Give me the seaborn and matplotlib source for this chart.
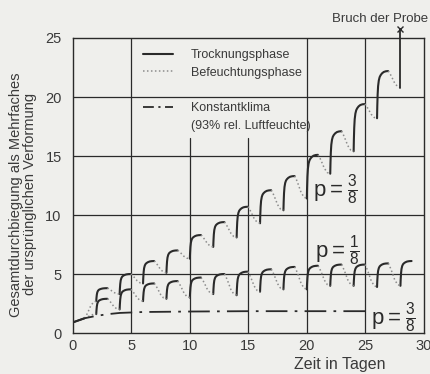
import numpy as np
import pandas as pd
import matplotlib
matplotlib.use("Agg")
import matplotlib.pyplot as plt
import seaborn as sns
from matplotlib.lines import Line2D

# --- values ---
# Konstantklima (93 % rel. Luftfeuchte)
const_days = [0, 1, 2, 3, 4, 6, 10, 15, 20, 25]
const_vals = [0.9, 1.25, 1.45, 1.6, 1.7, 1.78, 1.82, 1.85, 1.85, 1.85]

# start of the first drying phase (shared by both cyclic curves)
init_days = [0, 1]
init_vals = [0.9, 1.25]

# each drying phase starts on an even day
start_days = [2, 4, 6, 8, 10, 12, 14, 16, 18, 20, 22, 24, 26, 28]

# p = 3/8, cyclic climate (value at start of drying, value at end of drying)
upper_trough = [2.7, 3.3, 4.2, 5.1, 6.3, 7.3, 8.1, 9.3, 10.4, 11.4, 13.5, 15.4, 18.2]
upper_peak = [3.8, 5.0, 6.1, 7.0, 8.3, 9.4, 10.7, 12.1, 13.3, 15.1, 17.1, 19.4, 22.2]
upper_last = 20.8
fracture_top = 25.8

# p = 1/8, cyclic climate
lower_trough = [1.6, 2.0, 2.7, 2.9, 3.0, 3.3, 3.2, 3.5, 3.7, 3.7, 4.0, 4.0, 3.9, 4.0]
lower_peak = [2.9, 3.7, 4.2, 4.4, 4.7, 5.0, 5.2, 5.4, 5.6, 5.7, 5.8, 5.8, 5.9, 6.1]

# typical shape of one drying / wetting phase
rise_dt = [0, 0.02, 0.05, 0.09, 0.15, 0.22, 0.3, 0.42, 0.57, 0.75, 0.95]
rise_frac = [0, 0.25, 0.5, 0.68, 0.8, 0.87, 0.91, 0.95, 0.98, 0.995, 1.0]
fall_dt = [0, 0.1, 0.3, 0.55, 0.8, 1.05]
fall_frac = [0, 0.08, 0.35, 0.72, 0.94, 1.0]

DRY = "Trocknungsphase"
WET = "Befeuchtungsphase"

rows = []
seg_id = [0]


def add_segment(t0, dts, fracs, v0, v1, phase):
    for dt, f in zip(dts, fracs):
        rows.append((seg_id[0], phase, t0 + dt, v0 + (v1 - v0) * f))
    seg_id[0] += 1


# shared initial drying
for d, v in zip(init_days, init_vals):
    rows.append((seg_id[0], DRY, d, v))
seg_id[0] += 1

# initial wetting leading into the first cycle
init_dt = [t / fall_dt[-1] for t in fall_dt]
add_segment(init_days[-1], init_dt, fall_frac, init_vals[-1], upper_trough[0], WET)
add_segment(init_days[-1], init_dt, fall_frac, init_vals[-1], lower_trough[0], WET)

for i, d0 in enumerate(start_days[:len(upper_peak)]):
    add_segment(d0, rise_dt, rise_frac, upper_trough[i], upper_peak[i], DRY)
    nxt = upper_trough[i + 1] if i + 1 < len(upper_trough) else upper_last
    add_segment(d0 + rise_dt[-1], fall_dt, fall_frac, upper_peak[i], nxt, WET)

for i, d0 in enumerate(start_days):
    add_segment(d0, rise_dt, rise_frac, lower_trough[i], lower_peak[i], DRY)
    if i + 1 < len(lower_trough):
        add_segment(d0 + rise_dt[-1], fall_dt, fall_frac, lower_peak[i], lower_trough[i + 1], WET)

df = pd.DataFrame(rows, columns=["seg", "phase", "day", "value"])

# --- style ---
ink = "#2a2a2a"
txt = "#3a3a3a"
paper = "#efefec"
sns.set_style("white")
plt.rcParams["font.family"] = ["Liberation Sans", "DejaVu Sans"]
plt.rcParams["mathtext.fontset"] = "custom"
plt.rcParams["mathtext.rm"] = "Liberation Sans"

fig = plt.figure(figsize=(4.31, 3.74), dpi=100, facecolor=paper)
ax = fig.add_axes([0.169, 0.1096, 0.8144, 0.7888])
ax.set_facecolor(paper)

# grid drawn by hand because the legend interrupts two of the lines
for y in [5, 10, 15, 20]:
    ax.axhline(y, color=ink, lw=0.9, zorder=1)
for x in [5, 20, 25]:
    ax.axvline(x, color=ink, lw=0.9, zorder=1)
for x in [10, 15]:
    ax.axvline(x, ymax=16.5 / 25, color=ink, lw=0.9, zorder=1)

sns.lineplot(data=df, x="day", y="value", units="seg", estimator=None, sort=False,
             hue="phase", palette={DRY: ink, WET: "#8c8c8c"},
             size="phase", sizes={DRY: 1.5, WET: 1.1},
             style="phase", dashes={DRY: "", WET: (1, 1.6)},
             legend=False, ax=ax, zorder=3)

sns.lineplot(x=const_days, y=const_vals, color=ink, lw=1.3,
             linestyle=(0, (12, 4, 1.5, 4)), ax=ax, zorder=3)

# fracture of the specimen
ax.plot([start_days[-1], start_days[-1]], [upper_last, fracture_top], color=ink, lw=1.3,
        clip_on=False, zorder=3)
ax.plot([start_days[-1]], [fracture_top], marker="x", ms=5, mew=1.0, color=ink,
        clip_on=False, zorder=3)
ax.text(26.3, 26.6, "Bruch der Probe", ha="center", va="center", fontsize=9.5,
        color=txt, clip_on=False)

ax.text(22.4, 12.2, r"$\mathregular{p=\frac{3}{8}}$", fontsize=16, ha="center", va="center", color=ink)
ax.text(22.6, 7.0, r"$\mathregular{p=\frac{1}{8}}$", fontsize=16, ha="center", va="center", color=ink)
ax.text(27.4, 1.3, r"$\mathregular{p=\frac{3}{8}}$", fontsize=16, ha="center", va="center", color=ink)

handles = [
    Line2D([], [], color=ink, lw=1.5),
    Line2D([], [], color="#8c8c8c", lw=1.1, dashes=(1, 1.6)),
    Line2D([], [], color="none"),
    Line2D([], [], color=ink, lw=1.3, linestyle=(0, (6, 2.5, 1.2, 2.5))),
    Line2D([], [], color="none"),
]
labels = [DRY, WET, " ", "Konstantklima", "(93% rel. Luftfeuchte)"]
leg = ax.legend(handles, labels, loc="upper left", bbox_to_anchor=(0.2, 0.962),
                frameon=False, fontsize=9, handlelength=2.4, handletextpad=1.4,
                labelspacing=0.45, borderpad=0, borderaxespad=0)
for t in leg.get_texts():
    t.set_color(txt)

ax.set_xlim(0, 30)
ax.set_ylim(0, 25)
ax.set_xticks([0, 5, 10, 15, 20, 25, 30])
ax.set_yticks([0, 5, 10, 15, 20, 25])
ax.tick_params(length=0, labelsize=10.5, colors=txt)
ax.tick_params(axis="y", pad=8)
ax.tick_params(axis="x", pad=4)
for s in ax.spines.values():
    s.set_color(ink)
    s.set_linewidth(1.0)

ax.set_xlabel("Zeit in Tagen", fontsize=11.5, color=txt)
ax.xaxis.set_label_coords(0.76, -0.08)
ax.set_ylabel("Gesamtdurchbiegung als Mehrfaches\nder ursprünglichen Verformung",
              fontsize=10.5, color=txt, linespacing=1.0)
ax.yaxis.set_label_coords(-0.103, 0.47)

fig.savefig("out.png", dpi=100, facecolor=paper)
